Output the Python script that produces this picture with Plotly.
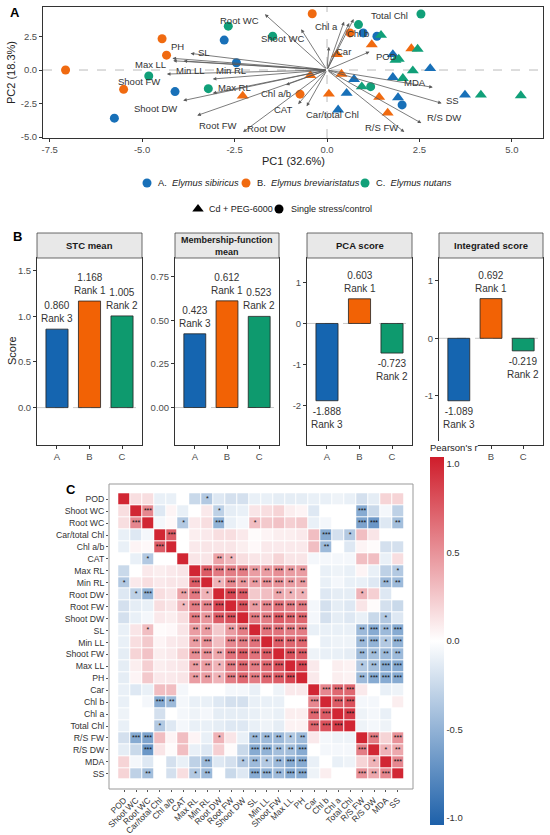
import plotly.graph_objects as go

W, H = 550, 835
def px(x): return x / W
def py(y): return 1 - y / H

FONT = "Liberation Sans, Arial, sans-serif"
BLUE, ORANGE, GREEN = "#1870B8", "#F06A10", "#11A079"

# ---------------- Panel A data (PCA biplot) ----------------
A_circ_x = [-5.75, -4.11, -2.78, -2.45, 0.98, 1.35, 2.03]
A_circ_y = [-3.59, -1.61, 2.23, 0.54, 2.77, 2.52, -2.60]
A_tri_x = [1.78, 2.79, 1.78, 0.73, 0.53, 1.92, 3.73, 0.30]
A_tri_y = [1.16, 0.12, -0.54, -0.69, -1.73, -2.05, -1.86, -2.97]
B_circ_x = [-7.07, -4.46, -4.34, -5.50, -0.40, 0.62, -0.73]
B_circ_y = [0.00, 2.33, 1.11, -1.44, 4.20, 2.77, -1.80]
B_tri_x = [-2.28, 1.21, 2.28, 0.27, -0.45, 0.39, 0.05, 1.41, 1.64]
B_tri_y = [-1.93, 1.90, 1.60, 1.16, -0.40, -0.30, -1.78, -2.03, -3.20]
C_circ_x = [-4.82, -3.21, -2.67, -1.47, 2.54, 0.85, 1.18]
C_circ_y = [-0.45, -1.39, 3.27, 2.52, 4.18, 3.39, -1.24]
C_tri_x = [1.46, 2.45, 1.85, 1.94, 2.32, 2.05, 0.94, 4.16, 5.24]
C_tri_y = [2.60, 1.56, 0.74, 0.82, -0.05, -0.62, -1.24, -1.86, -1.90]

load_names = ["Root WC", "Shoot WC", "Chl a", "Total Chl", "Chl b", "Car", "POD", "MDA", "SS",
              "R/S DW", "R/S FW", "Car/total Chl", "CAT", "Chl a/b", "PH", "Max LL", "SL",
              "Shoot FW", "Min LL", "Min RL", "Max RL", "Shoot DW", "Root FW", "Root DW"]
load_x = [-1.68, -0.70, 0.46, 0.72, 0.60, 0.05, 1.15, 2.86, 3.10, 2.55, 2.09, -0.55, -0.78, -1.11,
          -4.18, -4.16, -3.69, -4.33, -3.88, -3.09, -3.09, -3.89, -3.51, -2.27]
load_y = [4.16, 3.04, 3.60, 3.80, 3.50, 1.73, 1.36, -1.29, -2.48, -3.96, -4.63, -2.70, -2.55, -1.11,
          0.87, 0.69, 1.24, -0.30, 0.67, -0.67, -1.73, -2.28, -3.39, -4.63]
label_x = [-2.38, -1.20, -0.02, 1.69, 0.83, 0.45, 1.60, 2.39, 3.39, 3.16, 1.46, 0.14, -1.20, -1.38,
           -4.04, -4.78, -3.33, -5.09, -3.69, -2.61, -2.50, -4.65, -2.96, -1.63]
label_y = [3.66, 2.35, 3.22, 4.03, 2.72, 1.41, 0.99, -0.94, -2.28, -3.51, -4.28, -3.34, -2.97, -1.78,
           1.73, 0.42, 1.31, -0.82, -0.05, 0.00, -1.29, -2.90, -4.13, -4.33]

pc1_ticks = [-7.5, -5.0, -2.5, 0.0, 2.5, 5.0]
pc2_ticks = [-5.0, -2.5, 0.0, 2.5]

# ---------------- Panel B data ----------------
groups = ["A", "B", "C"]
bar_colors = ["#1565B0", "#F26205", "#0E9A6E"]
facet_titles = ["STC mean", "Membership-function<br>mean", "PCA score", "Integrated score"]
stc_mean = [0.860, 1.168, 1.005]
membership_mean = [0.423, 0.612, 0.523]
pca_score = [-1.888, 0.603, -0.723]
integrated_score = [-1.089, 0.692, -0.219]
ranks = [["Rank 3", "Rank 1", "Rank 2"]] * 4
facet_ticks = [[0, 0.5, 1.0, 1.5], [0, 0.25, 0.5, 0.75], [-2, -1, 0, 1], [-1, 0, 1]]
facet_ticktext = [["0.0", "0.5", "1.0", "1.5"], ["0.00", "0.25", "0.50", "0.75"],
                  ["-2", "-1", "0", "1"], ["-1", "0", "1"]]
# in the reference the first category label of the last facet is covered by the colour-bar title
facet_xlabels = [groups, groups, groups, ["", "B", "C"]]

# ---------------- Panel C data ----------------
variables = ["POD", "Shoot WC", "Root WC", "Car/total Chl", "Chl a/b", "CAT", "Max RL", "Min RL",
             "Root DW", "Root FW", "Shoot DW", "SL", "Min LL", "Shoot FW", "Max LL", "PH", "Car",
             "Chl b", "Chl a", "Total Chl", "R/S FW", "R/S DW", "MDA", "SS"]
corr_lower = [
    [],
    [0.15],
    [0.15, 0.55],
    [-0.10, -0.15, -0.05],
    [-0.10, 0.05, 0.03, 0.75],
    [0.00, -0.10, -0.35, 0.00, 0.00],
    [-0.25, 0.00, 0.10, 0.08, 0.10, 0.12],
    [-0.35, 0.10, 0.15, 0.10, 0.12, 0.12, 0.75],
    [-0.15, -0.30, -0.50, 0.15, 0.12, 0.42, 0.62, 0.35],
    [-0.20, -0.12, -0.10, 0.15, 0.12, 0.32, 0.60, 0.55, 0.85],
    [-0.20, -0.10, -0.05, 0.10, 0.08, 0.15, 0.60, 0.48, 0.75, 0.80],
    [-0.10, 0.12, 0.30, 0.02, 0.03, 0.12, 0.45, 0.45, 0.25, 0.45, 0.60],
    [-0.10, 0.15, 0.25, 0.05, 0.10, 0.12, 0.45, 0.50, 0.30, 0.55, 0.60, 0.65],
    [-0.12, 0.20, 0.28, 0.08, 0.10, 0.20, 0.52, 0.50, 0.40, 0.65, 0.75, 0.65, 0.75],
    [-0.12, 0.08, 0.22, 0.08, 0.10, 0.12, 0.45, 0.45, 0.35, 0.60, 0.70, 0.60, 0.70, 0.80],
    [-0.12, 0.05, 0.25, 0.10, 0.10, 0.12, 0.45, 0.45, 0.35, 0.60, 0.70, 0.60, 0.70, 0.75, 0.85],
    [-0.10, -0.15, -0.10, 0.30, 0.30, -0.05, 0.00, 0.00, 0.00, -0.05, -0.05, -0.10, 0.00, -0.08, 0.10, 0.10],
    [-0.10, 0.00, -0.05, -0.55, -0.45, -0.05, -0.10, -0.10, -0.15, -0.20, -0.20, -0.10, -0.10, -0.10, 0.00, 0.00, 0.55],
    [-0.08, 0.00, 0.00, -0.20, 0.00, -0.05, -0.08, -0.05, -0.12, -0.12, -0.12, -0.10, -0.08, -0.10, 0.08, 0.08, 0.70, 0.75],
    [-0.10, 0.00, 0.00, -0.35, -0.15, -0.05, -0.10, -0.10, -0.12, -0.15, -0.15, -0.10, -0.08, -0.12, 0.06, 0.06, 0.70, 0.80, 0.90],
    [-0.20, -0.55, -0.60, 0.30, 0.05, 0.30, 0.05, -0.10, 0.35, 0.12, -0.10, -0.45, -0.45, -0.45, -0.35, -0.45, 0.10, -0.05, -0.08, -0.08],
    [-0.12, -0.25, -0.68, 0.12, 0.02, 0.30, -0.10, -0.15, 0.22, 0.02, -0.25, -0.55, -0.50, -0.42, -0.42, -0.55, 0.00, -0.05, -0.05, -0.05, 0.60],
    [0.20, -0.05, -0.15, 0.00, -0.20, -0.10, -0.30, -0.45, -0.15, -0.20, -0.35, -0.45, -0.35, -0.45, -0.55, -0.55, -0.10, 0.00, -0.10, -0.08, 0.20, 0.35],
    [0.20, -0.30, -0.42, 0.00, -0.20, 0.15, -0.35, -0.45, 0.00, -0.25, -0.15, -0.55, -0.50, -0.45, -0.55, -0.55, -0.08, 0.08, 0.00, 0.00, 0.50, 0.40, 0.55],
]
stars_lower = [
    [],
    [""],
    ["", "***"],
    ["", "", ""],
    ["", "", "", "***"],
    ["", "", "*", "", ""],
    ["", "", "", "", "", ""],
    ["*", "", "", "", "", "", "***"],
    ["", "*", "***", "", "", "**", "***", "*"],
    ["", "", "", "", "", "*", "***", "***", "***"],
    ["", "", "", "", "", "", "***", "**", "***", "***"],
    ["", "", "*", "", "", "", "**", "**", "", "**", "***"],
    ["", "", "", "", "", "", "**", "***", "", "***", "***", "***"],
    ["", "", "", "", "", "", "***", "***", "**", "***", "***", "***", "***"],
    ["", "", "", "", "", "", "**", "**", "*", "***", "***", "***", "***", "***"],
    ["", "", "", "", "", "", "**", "**", "*", "***", "***", "***", "***", "***", "***"],
    [""] * 16,
    ["", "", "", "***", "**", "", "", "", "", "", "", "", "", "", "", "", "***"],
    [""] * 16 + ["***", "***"],
    ["", "", "", "*"] + [""] * 12 + ["***", "***", "***"],
    ["", "***", "***", "", "", "", "", "", "*", "", "", "**", "**", "**", "*", "**", "", "", "", ""],
    ["", "", "***", "", "", "", "", "", "", "", "", "***", "***", "**", "**", "***", "", "", "", "", "***"],
    ["", "", "", "", "", "", "", "**", "", "", "*", "**", "*", "**", "***", "***", "", "", "", "", "", "*"],
    ["", "", "**", "", "", "", "*", "**", "", "", "", "***", "***", "**", "***", "***", "", "", "", "", "***", "**", "***"],
]

n = len(variables)
corr = [[1.0] * n for _ in range(n)]
stars = [[""] * n for _ in range(n)]
for i in range(n):
    for j in range(i):
        corr[i][j] = corr[j][i] = corr_lower[i][j]
        stars[i][j] = stars[j][i] = stars_lower[i][j]

fig = go.Figure()
annotations = []
shapes = []

def ptext(x, y, text, size=10, color="#222222", xanchor="center", angle=0, bold=False):
    annotations.append(dict(x=px(x), y=py(y), xref="paper", yref="paper",
                            text=f"<b>{text}</b>" if bold else text, showarrow=False,
                            xanchor=xanchor, yanchor="middle", textangle=angle,
                            font=dict(size=size, color=color)))

# ---------------- Panel A ----------------
def add_pts(xs, ys, color, sym, size, xa="x", ya="y"):
    fig.add_trace(go.Scatter(x=xs, y=ys, mode="markers", xaxis=xa, yaxis=ya, showlegend=False,
                             hoverinfo="skip", cliponaxis=False,
                             marker=dict(color=color, symbol=sym, size=size, line=dict(width=0))))

add_pts(A_circ_x, A_circ_y, BLUE, "circle", 9)
add_pts(B_circ_x, B_circ_y, ORANGE, "circle", 9)
add_pts(C_circ_x, C_circ_y, GREEN, "circle", 9)
add_pts(A_tri_x, A_tri_y, BLUE, "triangle-up", 10.5)
add_pts(B_tri_x, B_tri_y, ORANGE, "triangle-up", 10.5)
add_pts(C_tri_x, C_tri_y, GREEN, "triangle-up", 10.5)

for nm, lx, ly, tx, ty in zip(load_names, load_x, load_y, label_x, label_y):
    annotations.append(dict(x=lx, y=ly, ax=0, ay=0, xref="x", yref="y", axref="x", ayref="y",
                            showarrow=True, arrowhead=2, arrowsize=0.9, arrowwidth=0.8,
                            arrowcolor="#5a5a5a", text=""))
    annotations.append(dict(x=tx, y=ty, xref="x", yref="y", text=nm, showarrow=False,
                            xanchor="center", yanchor="middle",
                            font=dict(size=9.5, color="#333333", family=FONT)))

shapes.append(dict(type="line", xref="x", yref="y domain", x0=0, x1=0, y0=0, y1=1,
                   line=dict(color="#aaaaaa", width=0.8, dash="dash"), layer="below"))
shapes.append(dict(type="line", xref="x domain", yref="y", x0=0, x1=1, y0=0, y1=0,
                   line=dict(color="#aaaaaa", width=0.8, dash="dash"), layer="below"))

axis_common = dict(showgrid=False, zeroline=False, ticks="outside", ticklen=3, tickcolor="#333333",
                   automargin=False, tickfont=dict(size=9.5, color="#4d4d4d", family=FONT))

layout = dict(
    template="none",
    width=W, height=H, margin=dict(l=0, r=0, t=0, b=0, pad=0, autoexpand=False),
    paper_bgcolor="white", plot_bgcolor="rgba(0,0,0,0)", showlegend=False,
    font=dict(family=FONT, color="#222222"),
    xaxis=dict(domain=[px(43), px(543)], range=[-7.68, 5.84], anchor="y",
               tickvals=pc1_ticks, ticktext=[f"{v:.1f}" for v in pc1_ticks],
               showline=True, mirror=True, linecolor="#333333", linewidth=1, **axis_common),
    yaxis=dict(domain=[py(138), py(7)], range=[-5.07, 4.7], anchor="x",
               tickvals=pc2_ticks, ticktext=[f"{v:.1f}" for v in pc2_ticks],
               showline=True, mirror=True, linecolor="#333333", linewidth=1, **axis_common),
    # overlay axis in pixel units for legend keys
    xaxis7=dict(domain=[0, 1], range=[0, W], anchor="y7", visible=False, fixedrange=True,
                automargin=False),
    yaxis7=dict(domain=[0, 1], range=[H, 0], anchor="x7", visible=False, fixedrange=True,
                automargin=False),
)

ptext(293, 161, "PC1 (32.6%)", size=11)
ptext(11, 73, "PC2 (18.3%)", size=11, angle=-90)
ptext(15, 12, "A", size=13, color="black", bold=True)

# legend keys
leg_keys_x = [147, 246, 365, 198, 279]
leg_keys_y = [183, 183, 183, 209, 209]
leg_keys_c = [BLUE, ORANGE, GREEN, "black", "black"]
leg_keys_s = ["circle", "circle", "circle", "triangle-up", "circle"]
for kx, ky, kc, ks in zip(leg_keys_x, leg_keys_y, leg_keys_c, leg_keys_s):
    add_pts([kx], [ky], kc, ks, 9 if ks == "circle" else 10, xa="x7", ya="y7")
ptext(156, 183, "A.  <i>Elymus sibiricus</i>", size=9.3, xanchor="left")
ptext(255, 183, "B.  <i>Elymus breviaristatus</i>", size=9.3, xanchor="left")
ptext(374, 183, "C.  <i>Elymus nutans</i>", size=9.3, xanchor="left")
ptext(207, 209, "Cd + PEG-6000", size=9, xanchor="left")
ptext(289, 209, "Single stress/control", size=9, xanchor="left")

# ---------------- Panel B ----------------
facet_vals = [stc_mean, membership_mean, pca_score, integrated_score]
facet_ranges = [[-0.41, 1.64], [-0.215, 0.858], [-2.97, 1.6], [-1.86, 1.4]]
facet_x = [(37, 142), (175, 279), (307, 412), (439, 543)]
for k in range(4):
    xa = f"x{k + 2}"
    ya = f"y{k + 2}"
    fig.add_trace(go.Bar(x=groups, y=facet_vals[k], xaxis=xa, yaxis=ya, width=0.68,
                         marker=dict(color=bar_colors, line=dict(color="#222222", width=0.8)),
                         showlegend=False, hoverinfo="skip"))
    x0, x1 = facet_x[k]
    layout[f"xaxis{k + 2}"] = dict(domain=[px(x0), px(x1)], anchor=ya, range=[-0.615, 2.615],
                                   tickmode="array", tickvals=groups, ticktext=facet_xlabels[k],
                                   showline=True, mirror=True, linecolor="#333333", linewidth=1,
                                   **axis_common)
    layout[f"yaxis{k + 2}"] = dict(domain=[py(445), py(258)], anchor=xa, range=facet_ranges[k],
                                   tickvals=facet_ticks[k], ticktext=facet_ticktext[k],
                                   showline=True, mirror=True, linecolor="#333333", linewidth=1,
                                   **axis_common)
    shapes.append(dict(type="line", xref=f"{xa} domain", yref=ya, x0=0, x1=1, y0=0, y1=0,
                       line=dict(color="#bbbbbb", width=0.8, dash="dash"), layer="below"))
    shapes.append(dict(type="rect", xref="paper", yref="paper", x0=px(x0), x1=px(x1),
                       y0=py(258), y1=py(233), fillcolor="#E8E8E8",
                       line=dict(color="#444444", width=0.8)))
    ptext((x0 + x1) / 2, 245.5, facet_titles[k], size=9 if k == 1 else 9.5,
          color="#1a1a1a", bold=True)
    for g, v, r in zip(groups, facet_vals[k], ranks[k]):
        annotations.append(dict(x=g, y=v, xref=xa, yref=ya, text=f"{v:.3f}<br>{r}",
                                showarrow=False, xanchor="center",
                                yanchor="bottom" if v >= 0 else "top",
                                yshift=3 if v >= 0 else -3,
                                font=dict(size=10, color="#333333")))

ptext(12, 351, "Score", size=11, angle=-90)
ptext(17, 237, "B", size=13, color="black", bold=True)

# ---------------- Panel C ----------------
fig.add_trace(go.Heatmap(
    z=corr, x=variables, y=variables, xaxis="x6", yaxis="y6", zmin=-1.04, zmax=1.04,
    xgap=1, ygap=1,
    colorscale=[[0, "#1D60A9"], [0.5, "#FFFFFF"], [1, "#CF1D2B"]], hoverinfo="skip",
    colorbar=dict(x=px(430), xanchor="left", y=py(633), yanchor="middle", len=384 / H,
                  thickness=14, outlinewidth=0, ticks="", bgcolor="rgba(255,255,255,1)",
                  xpad=0, ypad=0,
                  tickvals=[-1, -0.5, 0, 0.5, 1], ticktext=["-1.0", "-0.5", "0.0", "0.5", "1.0"],
                  tickfont=dict(size=9.5, color="#333333"),
                  title=dict(text="Pearson's r", side="top", font=dict(size=9.5, color="#222222"))),
))
sx, sy, st = [], [], []
for i in range(n):
    for j in range(n):
        if stars[i][j]:
            sx.append(variables[j]); sy.append(variables[i]); st.append(stars[i][j])
fig.add_trace(go.Scatter(x=sx, y=sy, text=st, mode="text", xaxis="x6", yaxis="y6", showlegend=False,
                         hoverinfo="skip", textfont=dict(size=7, color="#111111"), cliponaxis=False))

layout["xaxis6"] = dict(domain=[px(109), px(413)], anchor="y6", tickangle=-45, showgrid=False,
                        zeroline=False, ticks="outside", ticklen=2, tickcolor="#555555",
                        automargin=False, tickmode="array", tickvals=variables, ticktext=variables,
                        tickfont=dict(size=8.5, color="#333333"))
layout["yaxis6"] = dict(domain=[py(789), py(484)], anchor="x6", autorange="reversed", showgrid=False,
                        zeroline=False, ticks="outside", ticklen=2, tickcolor="#555555",
                        automargin=False, tickmode="array", tickvals=variables, ticktext=variables,
                        tickfont=dict(size=8.7, color="#333333"))
shapes.append(dict(type="rect", xref="x6 domain", yref="y6 domain", x0=0, x1=1, y0=0, y1=1,
                   line=dict(color="#999999", width=1)))
ptext(71, 489, "C", size=13, color="black", bold=True)

layout["annotations"] = annotations
layout["shapes"] = shapes
fig.update_layout(**layout)
fig.write_html("out.html", config={"displayModeBar": False},
               post_script="document.body.style.margin='0px';document.body.style.overflow='hidden';")
